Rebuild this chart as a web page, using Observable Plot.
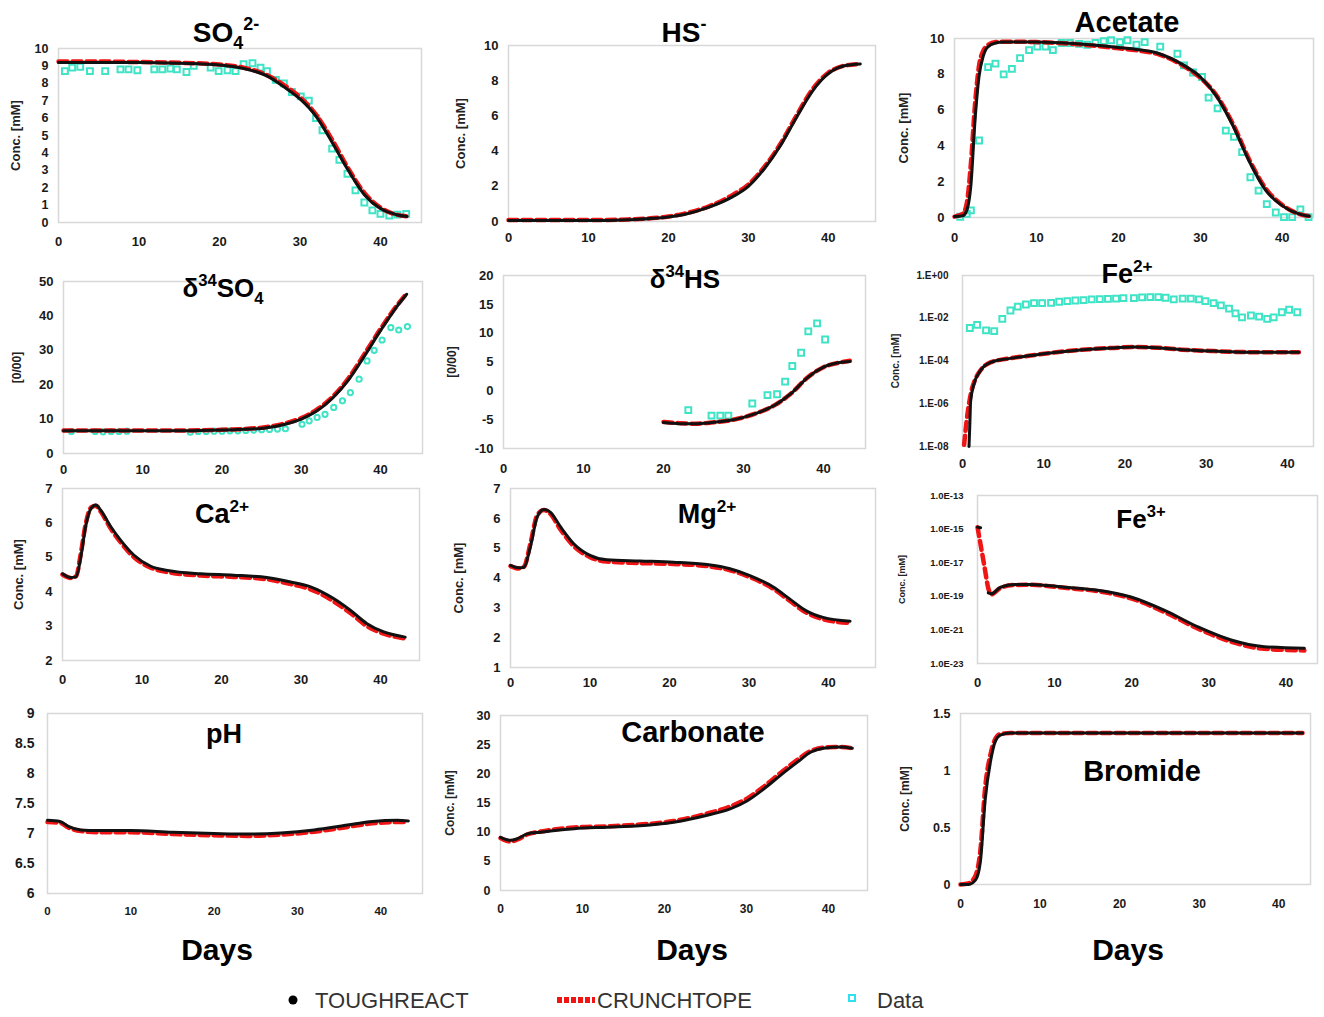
<!DOCTYPE html>
<html>
<head>
<meta charset="utf-8">
<script src="https://cdn.jsdelivr.net/npm/d3@7"></script>
<script src="https://cdn.jsdelivr.net/npm/@observablehq/plot@0.6"></script>
<style>
  body { margin: 0; background: #fff; }
  #wrap { position: relative; width: 1324px; height: 1017px; overflow: hidden; background: #fff; }
</style>
</head>
<body>
<div id="wrap"></div>
<script>
// ---------------- DATA ----------------
const xTickDays = [0, 10, 20, 30, 40];

// SO4 2-
const so4Days = [0, 5, 10, 15, 20, 23, 26, 28, 30, 32, 34, 36, 38, 40, 42, 43.3];
const so4Tough = [9.2, 9.2, 9.2, 9.15, 9.05, 8.85, 8.4, 7.8, 7.1, 6.1, 4.6, 3.0, 1.6, 0.8, 0.45, 0.35];
const so4Crunch = [9.25, 9.25, 9.22, 9.18, 9.08, 8.9, 8.45, 7.9, 7.2, 6.2, 4.75, 3.1, 1.7, 0.85, 0.45, 0.35];
const so4ObsDays = [0.8, 1.7, 2.7, 3.9, 5.8, 7.7, 8.7, 9.8, 11.9, 12.9, 13.9, 14.7, 15.9, 16.8, 18.9, 19.9, 21, 22, 23, 24.1, 25.1, 25.9, 27, 28, 29, 30.1, 31.1, 32, 32.8, 34, 34.9, 35.9, 36.9, 38, 39, 40, 41.1, 42.1, 43.2];
const so4Obs = [8.7, 8.9, 8.95, 8.7, 8.7, 8.8, 8.8, 8.75, 8.8, 8.8, 8.85, 8.8, 8.65, 9.0, 8.9, 8.7, 8.75, 8.7, 9.1, 9.15, 8.9, 8.7, 8.2, 8.0, 7.5, 7.25, 7.0, 6.0, 5.3, 4.25, 3.6, 2.8, 1.85, 1.15, 0.7, 0.5, 0.4, 0.45, 0.5];

// HS-
const hsDays = [0, 5, 10, 15, 20, 22, 25, 28, 30, 32, 34, 36, 38, 40, 42, 44];
const hsTough = [0.05, 0.05, 0.05, 0.1, 0.25, 0.4, 0.8, 1.4, 2.0, 3.0, 4.3, 5.9, 7.4, 8.4, 8.85, 8.95];
const hsCrunch = [0.08, 0.08, 0.08, 0.12, 0.28, 0.45, 0.85, 1.5, 2.1, 3.1, 4.4, 6.0, 7.5, 8.45, 8.85, 8.95];

// Acetate
const acDays = [0, 1, 1.5, 2, 2.5, 3, 3.5, 4, 5, 6, 10, 15, 20, 22, 25, 28, 30, 32, 34, 36, 38, 40, 42, 43.3];
const acTough = [0.05, 0.1, 0.4, 1.8, 5.4, 7.9, 9.0, 9.5, 9.75, 9.8, 9.8, 9.7, 9.5, 9.4, 9.15, 8.5, 7.85, 6.75, 5.1, 3.1, 1.5, 0.65, 0.2, 0.07];
const acCrunch = [0.05, 0.2, 0.8, 3.0, 6.3, 8.5, 9.3, 9.6, 9.8, 9.82, 9.8, 9.68, 9.45, 9.35, 9.1, 8.45, 7.8, 6.8, 5.2, 3.2, 1.6, 0.7, 0.2, 0.07];
const acObsDays = [0.7, 1.5, 2.0, 3.0, 4.1, 5.0, 6.0, 7.0, 8.0, 9.1, 10.1, 11.1, 12.0, 13.1, 14.1, 15.2, 16.2, 17.2, 18.2, 19.1, 20.2, 21.1, 22.2, 23.2, 25.1, 27.2, 28.0, 29.1, 30.2, 31.0, 32.1, 33.1, 34.1, 35.1, 36.1, 37.1, 38.1, 39.2, 40.2, 41.2, 42.2, 43.2];
const acObs = [0.04, 0.2, 0.4, 4.3, 8.4, 8.6, 8.0, 8.3, 8.9, 9.35, 9.55, 9.55, 9.35, 9.75, 9.75, 9.7, 9.65, 9.75, 9.85, 9.9, 9.8, 9.9, 9.65, 9.8, 9.55, 9.15, 8.5, 8.1, 7.85, 6.7, 6.1, 4.85, 4.5, 3.65, 2.25, 1.5, 0.75, 0.28, 0.02, 0.02, 0.45, 0.02];

// delta34 SO4
const d34sDays = [0, 5, 10, 15, 20, 25, 28, 30, 32, 34, 36, 38, 40, 42, 43.3];
const d34sTough = [6.6, 6.6, 6.6, 6.6, 6.8, 7.3, 8.5, 10, 12.4, 16.2, 21.5, 28.4, 35.7, 42.5, 46.3];
const d34sCrunch = [6.7, 6.7, 6.7, 6.7, 6.9, 7.5, 8.8, 10.3, 12.8, 16.6, 22, 29, 36.2, 42.8, 46.5];
const d34sObsDays = [1, 4, 5, 6, 7, 8, 16, 17, 18, 19, 20, 21, 22, 23, 24, 25, 26, 27, 28, 30.1, 31, 32, 33, 34.1, 35.2, 36.2, 37.3, 38.3, 39.2, 40.2, 41.3, 42.3, 43.4];
const d34sObs = [6.4, 6.4, 6.3, 6.4, 6.4, 6.5, 6.2, 6.4, 6.4, 6.5, 6.5, 6.6, 6.6, 6.7, 6.8, 6.9, 7.0, 7.1, 7.2, 8.5, 9.5, 10.5, 11.4, 13.4, 15.3, 17.7, 21.6, 26.9, 30, 33, 36.6, 35.9, 36.9];

// delta34 HS
const d34hDays = [20, 22, 24, 26, 28, 30, 32, 34, 36, 38, 40, 42, 43.3];
const d34hTough = [-5.5, -5.7, -5.7, -5.5, -5.2, -4.6, -3.7, -2.4, -0.4, 2.3, 4.1, 4.9, 5.1];
const d34hCrunch = [-5.4, -5.6, -5.7, -5.5, -5.2, -4.6, -3.7, -2.4, -0.4, 2.3, 4.1, 4.9, 5.2];
const d34hObsDays = [23.1, 26, 27.1, 28.1, 31.1, 33, 34.2, 35.2, 36.1, 37.2, 38.1, 39.2, 40.2];
const d34hObs = [-3.35, -4.3, -4.3, -4.3, -2.2, -0.75, -0.6, 1.6, 4.3, 6.6, 10.3, 11.7, 8.9];

// Fe2+
const fe2ToughDays = [0.8, 0.9, 1.0, 1.4, 2.2, 3.5, 5.5, 8.4, 11.3, 14.5, 18.6, 21, 24, 27, 31, 35, 41.4];
const fe2Tough = [1e-8, 1e-7, 1.3e-6, 8e-6, 3.5e-5, 8.7e-5, 1.26e-4, 1.8e-4, 2.5e-4, 3.3e-4, 4.1e-4, 4.5e-4, 4.2e-4, 3.4e-4, 2.9e-4, 2.6e-4, 2.6e-4];
const fe2CrunchDays = [0.2, 0.5, 0.8, 1.1, 1.5, 2.2, 3.5, 5.5, 8.4, 11.3, 14.5, 18.6, 21, 24, 27, 31, 35, 41.4];
const fe2Crunch = [1.2e-8, 1.5e-7, 1e-6, 4e-6, 1.2e-5, 3.6e-5, 8.8e-5, 1.28e-4, 1.8e-4, 2.5e-4, 3.3e-4, 4.1e-4, 4.5e-4, 4.2e-4, 3.4e-4, 2.9e-4, 2.6e-4, 2.6e-4];
const fe2ObsDays = [0.9, 1.8, 2.9, 3.9, 4.9, 5.9, 6.8, 7.8, 8.8, 9.8, 10.9, 11.9, 12.9, 13.9, 14.9, 15.9, 16.9, 17.9, 18.9, 19.8, 21.1, 22.1, 23.1, 24.1, 25.0, 26.0, 27.1, 28.1, 29.1, 29.9, 30.9, 31.8, 32.8, 33.6, 34.4, 35.5, 36.5, 37.5, 38.3, 39.3, 40.2, 41.2];
const fe2Obs = [3.5e-3, 4.9e-3, 2.7e-3, 2.5e-3, 9.3e-3, 2.3e-2, 3.5e-2, 4.4e-2, 5.1e-2, 5.1e-2, 5.2e-2, 5.9e-2, 6.3e-2, 6.8e-2, 7.1e-2, 7.6e-2, 7.9e-2, 8.1e-2, 8.3e-2, 8.7e-2, 8.7e-2, 9.5e-2, 9.8e-2, 9.8e-2, 9.1e-2, 7.6e-2, 8.3e-2, 8.3e-2, 7.6e-2, 6.3e-2, 5.1e-2, 4.0e-2, 2.8e-2, 1.7e-2, 1.1e-2, 1.35e-2, 1.2e-2, 9.3e-3, 1.1e-2, 1.9e-2, 2.5e-2, 1.9e-2];

// Ca2+
const caDays = [0, 1.05, 1.7, 2.3, 2.9, 3.6, 4.2, 4.8, 6.1, 7.3, 9, 11.1, 13.2, 17.4, 21.5, 25.7, 28.7, 31.2, 34.1, 36.2, 38.3, 40.4, 43.1];
const caTough = [4.52, 4.41, 4.43, 5.0, 5.88, 6.42, 6.52, 6.37, 5.88, 5.5, 5.06, 4.74, 4.62, 4.52, 4.48, 4.41, 4.28, 4.14, 3.8, 3.46, 3.07, 2.83, 2.68];
const caCrunch = [4.5, 4.4, 4.45, 5.1, 5.95, 6.45, 6.5, 6.33, 5.82, 5.44, 5.0, 4.7, 4.57, 4.47, 4.43, 4.36, 4.22, 4.07, 3.72, 3.38, 3.0, 2.78, 2.64];

// Mg2+
const mgDays = [0, 1.05, 1.7, 2.5, 3.35, 4.2, 5, 6.3, 7.95, 10, 12.1, 16.3, 20.5, 24.7, 27.6, 30.1, 33.1, 35.1, 37.2, 39.3, 42.7];
const mgTough = [4.42, 4.34, 4.36, 5.04, 6.04, 6.3, 6.21, 5.71, 5.15, 4.76, 4.61, 4.57, 4.53, 4.45, 4.31, 4.08, 3.69, 3.3, 2.9, 2.68, 2.55];
const mgCrunch = [4.4, 4.32, 4.38, 5.15, 6.1, 6.28, 6.15, 5.62, 5.07, 4.7, 4.55, 4.5, 4.47, 4.4, 4.26, 4.03, 3.63, 3.24, 2.84, 2.62, 2.49];

// Fe3+
const fe3Days = [0, 0.4, 0.9, 1.4, 1.8, 3, 4.8, 6.9, 11.3, 15.6, 19.9, 24.2, 28.6, 32.9, 37.2, 42.4];
const fe3Tough = [1.3e-15, 1.2e-15, NaN, 1.6e-19, 1.4e-19, 3.5e-19, 5.1e-19, 5.1e-19, 3.5e-19, 2.3e-19, 9.1e-20, 1.5e-20, 1.5e-21, 2.5e-22, 1.0e-22, 8e-23];
const fe3Crunch = [1.3e-15, 1.2e-16, 6e-18, 3e-19, 1.3e-19, 3.2e-19, 4.7e-19, 4.8e-19, 3.2e-19, 2.0e-19, 7.5e-20, 1.2e-20, 1.2e-21, 2.0e-22, 7.5e-23, 6e-23];

// pH
const phDays = [0, 1.5, 2.5, 4, 6, 10, 15, 20, 24, 28, 32, 36, 39, 42, 43.3];
const phTough = [7.22, 7.2, 7.12, 7.06, 7.05, 7.05, 7.02, 7.0, 6.99, 7.01, 7.06, 7.14, 7.2, 7.22, 7.21];
const phCrunch = [7.19, 7.18, 7.1, 7.04, 7.02, 7.02, 6.99, 6.97, 6.96, 6.98, 7.03, 7.11, 7.17, 7.19, 7.19];

// Carbonate
const coDays = [0, 1.2, 2, 3.25, 4.9, 9, 13, 17, 21.1, 25.2, 28, 30.1, 32.1, 34.1, 36.2, 37.8, 39.4, 41.5, 42.9];
const coTough = [9.1, 8.6, 8.85, 9.7, 10.0, 10.6, 10.85, 11.1, 11.7, 12.9, 14.0, 15.4, 17.4, 19.7, 22.0, 23.7, 24.4, 24.6, 24.4];
const coCrunch = [9.0, 8.4, 8.7, 9.6, 10.1, 10.8, 11.0, 11.3, 11.9, 13.2, 14.4, 15.8, 17.8, 20.1, 22.4, 23.9, 24.5, 24.6, 24.4];

// Bromide
const brDays = [0, 1, 1.9, 2.5, 3.1, 3.8, 4.4, 5.0, 6.3, 10, 20, 30, 43];
const brTough = [0, 0, 0.04, 0.2, 0.74, 1.09, 1.26, 1.31, 1.33, 1.33, 1.33, 1.33, 1.33];
const brCrunch = [0, 0.01, 0.08, 0.3, 0.85, 1.15, 1.28, 1.32, 1.33, 1.33, 1.33, 1.33, 1.33];

const seriesNames = ["TOUGHREACT", "CRUNCHTOPE", "Data"];

// ---------------- STYLE ----------------
const FONT = "'Liberation Sans', Arial, Helvetica, sans-serif";
const RED = "#f01414";
const BLACK = "#111";
const CYAN = "#3fe3c6";
const wrap = document.getElementById("wrap");

const pts = (xs, ys) => xs.map((x, i) => ({x, y: ys[i]}));
const plain = d => String(d);
const fe2Fmt = d => { const e = Math.round(Math.log10(d)); return "1.E" + (e < 0 ? "-" : "+") + String(Math.abs(e)).padStart(2, "0"); };
const fe3Fmt = d => { const e = Math.round(Math.log10(d)); return "1.0E" + (e < 0 ? "-" : "+") + String(Math.abs(e)).padStart(2, "0"); };

function makePanel(p) {
  const [x0, y0, x1, y1] = p.frame;
  const mL = 100, mR = 12, mT = 12, mB = 40;
  const marks = [
    Plot.frame({stroke: "#d8d8d8", strokeWidth: 1.5}),
    Plot.axisX({ticks: xTickDays, tickSize: 0, tickPadding: p.xPad, tickFormat: plain, fontSize: p.xFont || 13, fontWeight: "bold", label: null}),
    Plot.axisY({ticks: p.yTicks, tickSize: 0, tickPadding: p.yPad || 10, tickFormat: p.yFormat || plain, fontSize: p.yFont || 13, fontWeight: "bold", label: null})
  ];
  if (p.obsDays) {
    marks.push(Plot.dot(pts(p.obsDays, p.obs), {x: "x", y: "y", symbol: p.symbol || "square", r: p.r || 3.3, stroke: CYAN, strokeWidth: 2, fill: "none"}));
  }
  marks.push(Plot.line(pts(p.cDays, p.crunch), {x: "x", y: "y", stroke: RED, strokeWidth: 4.5, strokeDasharray: "9,5", curve: "monotone-x"}));
  marks.push(Plot.line(pts(p.tDays, p.tough), {x: "x", y: "y", stroke: BLACK, strokeWidth: 3, curve: "monotone-x"}));
  if (p.yLabel) {
    marks.push(Plot.text([p.yLabel], {text: d => d, frameAnchor: "left", dx: -(x0 - p.labelX), rotate: -90, fontSize: p.labelFont || 13, fontWeight: "bold", textAnchor: "middle", lineAnchor: "middle", fill: "#222"}));
  }
  const svg = Plot.plot({
    width: x1 - x0 + mL + mR,
    height: y1 - y0 + mT + mB,
    marginLeft: mL, marginRight: mR, marginTop: mT, marginBottom: mB,
    x: {domain: p.xDomain},
    y: {domain: p.yDomain, type: p.yType || "linear"},
    style: {fontFamily: FONT, background: "transparent", color: "#1a1a1a", overflow: "visible"},
    marks
  });
  svg.style.position = "absolute";
  svg.style.left = (x0 - mL) + "px";
  svg.style.top = (y0 - mT) + "px";
  svg.style.maxWidth = "none";
  wrap.appendChild(svg);
}

const conc = "Conc. [mM]";
const permil = "[0/00]";

makePanel({frame: [58, 48, 421, 222], xDomain: [0, 45.1], yDomain: [0, 10], yTicks: d3.range(0, 11), xPad: 14, yFont: 12.5,
  yLabel: conc, labelX: 15, tDays: so4Days, tough: so4Tough, cDays: so4Days, crunch: so4Crunch, obsDays: so4ObsDays, obs: so4Obs});
makePanel({frame: [508, 45, 875, 221], xDomain: [0, 45.9], yDomain: [0, 10], yTicks: d3.range(0, 11, 2), xPad: 11,
  yLabel: conc, labelX: 460, tDays: hsDays, tough: hsTough, cDays: hsDays, crunch: hsCrunch});
makePanel({frame: [954, 38, 1313, 217], xDomain: [0, 43.8], yDomain: [0, 10], yTicks: d3.range(0, 11, 2), xPad: 15,
  yLabel: conc, labelX: 903, tDays: acDays, tough: acTough, cDays: acDays, crunch: acCrunch, obsDays: acObsDays, obs: acObs});

makePanel({frame: [63, 281, 422, 453], xDomain: [0, 45.3], yDomain: [0, 50], yTicks: d3.range(0, 51, 10), xPad: 11,
  yLabel: permil, labelX: 17, labelFont: 12, tDays: d34sDays, tough: d34sTough, cDays: d34sDays, crunch: d34sCrunch, obsDays: d34sObsDays, obs: d34sObs, symbol: "circle", r: 2.6});
makePanel({frame: [503, 275, 865, 448], xDomain: [0, 45.25], yDomain: [-10, 20], yTicks: d3.range(-10, 21, 5), xPad: 15,
  yLabel: permil, labelX: 452, labelFont: 12, tDays: d34hDays, tough: d34hTough, cDays: d34hDays, crunch: d34hCrunch, obsDays: d34hObsDays, obs: d34hObs});
makePanel({frame: [962, 275, 1313, 446], xDomain: [0, 43.2], yDomain: [1e-8, 1], yType: "log", yTicks: [1e-8, 1e-6, 1e-4, 1e-2, 1], yFormat: fe2Fmt, yFont: 10, yPad: 14, xPad: 12,
  yLabel: conc, labelX: 895, labelFont: 10, tDays: fe2ToughDays, tough: fe2Tough, cDays: fe2CrunchDays, crunch: fe2Crunch, obsDays: fe2ObsDays, obs: fe2Obs});

makePanel({frame: [62, 488, 419, 660], xDomain: [0, 44.9], yDomain: [2, 7], yTicks: d3.range(2, 8), xPad: 14,
  yLabel: conc, labelX: 18, tDays: caDays, tough: caTough, cDays: caDays, crunch: caCrunch});
makePanel({frame: [510, 488, 875, 667], xDomain: [0, 45.9], yDomain: [1, 7], yTicks: d3.range(1, 8), xPad: 10,
  yLabel: conc, labelX: 458, tDays: mgDays, tough: mgTough, cDays: mgDays, crunch: mgCrunch});
makePanel({frame: [977, 495, 1317, 663], xDomain: [0, 44.1], yDomain: [1e-23, 1e-13], yType: "log", yTicks: [1e-23, 1e-21, 1e-19, 1e-17, 1e-15, 1e-13], yFormat: fe3Fmt, yFont: 9.5, yPad: 14, xPad: 14,
  yLabel: conc, labelX: 902, labelFont: 9, tDays: fe3Days, tough: fe3Tough, cDays: fe3Days, crunch: fe3Crunch});

makePanel({frame: [47, 713, 422, 893], xDomain: [0, 45], yDomain: [6, 9], yTicks: d3.range(6, 9.01, 0.5), xPad: 13, xFont: 11.5, yFont: 14, yPad: 13,
  tDays: phDays, tough: phTough, cDays: phDays, crunch: phCrunch});
makePanel({frame: [500, 715, 867, 890], xDomain: [0, 44.75], yDomain: [0, 30], yTicks: d3.range(0, 31, 5), xPad: 14, xFont: 12, yFont: 12.5,
  yLabel: conc, labelX: 450, labelFont: 12, tDays: coDays, tough: coTough, cDays: coDays, crunch: coCrunch});
makePanel({frame: [960, 713, 1310, 884], xDomain: [0, 44], yDomain: [0, 1.5], yTicks: [0, 0.5, 1, 1.5], xPad: 15, xFont: 12, yFont: 12.5,
  yLabel: conc, labelX: 905, labelFont: 12, tDays: brDays, tough: brTough, cDays: brDays, crunch: brCrunch});

// ---------------- TITLES, AXIS TITLES, LEGEND ----------------
const overlay = d3.select(wrap).append("svg")
  .attr("width", 1324).attr("height", 1017)
  .style("position", "absolute").style("left", "0px").style("top", "0px")
  .style("pointer-events", "none")
  .style("font-family", FONT);

const titles = [
  {x: 226, y: 42, s: 28, parts: [["SO"], ["4", "sub"], ["2-", "sup"]]},
  {x: 684, y: 42, s: 28, parts: [["HS"], ["-", "sup"]]},
  {x: 1127, y: 32, s: 29, parts: [["Acetate"]]},
  {x: 223, y: 297, s: 26, parts: [["δ"], ["34", "sup"], ["SO"], ["4", "sub"]]},
  {x: 685, y: 288, s: 26, parts: [["δ"], ["34", "sup"], ["HS"]]},
  {x: 1127, y: 283, s: 27, parts: [["Fe"], ["2+", "sup"]]},
  {x: 222, y: 523, s: 27, parts: [["Ca"], ["2+", "sup"]]},
  {x: 707, y: 523, s: 27, parts: [["Mg"], ["2+", "sup"]]},
  {x: 1141, y: 528, s: 26, parts: [["Fe"], ["3+", "sup"]]},
  {x: 224, y: 743, s: 27, parts: [["pH"]]},
  {x: 693, y: 742, s: 29, parts: [["Carbonate"]]},
  {x: 1142, y: 781, s: 29, parts: [["Bromide"]]},
  {x: 217, y: 960, s: 30, parts: [["Days"]]},
  {x: 692, y: 960, s: 30, parts: [["Days"]]},
  {x: 1128, y: 960, s: 30, parts: [["Days"]]}
];
for (const t of titles) {
  const txt = overlay.append("text").attr("x", t.x).attr("y", t.y)
    .attr("text-anchor", "middle").attr("font-weight", "bold").attr("font-size", t.s).attr("fill", "#000");
  let shift = 0;
  for (const [str, kind] of t.parts) {
    const small = t.s * 0.64;
    const target = kind === "sub" ? t.s * 0.25 : kind === "sup" ? -t.s * 0.42 : 0;
    txt.append("tspan").attr("dy", target - shift).attr("font-size", kind ? small : t.s).text(str);
    shift = target;
  }
}

// legend
const lg = overlay.append("g").attr("font-size", 22).attr("fill", "#333");
lg.append("circle").attr("cx", 293).attr("cy", 1000).attr("r", 4.5).attr("fill", "#000");
lg.append("text").attr("x", 315).attr("y", 1008).text(seriesNames[0]);
lg.append("line").attr("x1", 557).attr("x2", 595).attr("y1", 1000).attr("y2", 1000)
  .attr("stroke", RED).attr("stroke-width", 6).attr("stroke-dasharray", "5,2");
lg.append("text").attr("x", 597).attr("y", 1008).text(seriesNames[1]);
lg.append("rect").attr("x", 849).attr("y", 995).attr("width", 6).attr("height", 6)
  .attr("fill", "none").attr("stroke", "#2fe0f0").attr("stroke-width", 2);
lg.append("text").attr("x", 877).attr("y", 1008).text(seriesNames[2]);
</script>
</body>
</html>
